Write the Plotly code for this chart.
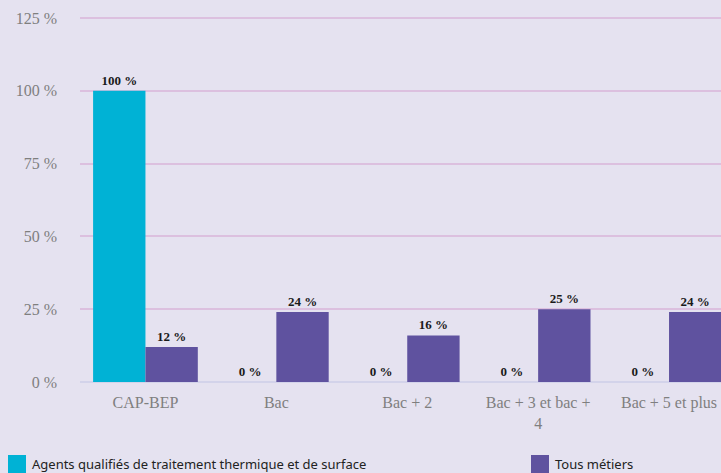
import plotly.graph_objects as go

categories = ["CAP-BEP", "Bac", "Bac + 2", "Bac + 3 et bac +<br>4", "Bac + 5 et plus"]
series1_name = "Agents qualifiés de traitement thermique et de surface"
series1_values = [100, 0, 0, 0, 0]
series2_name = "Tous métiers"
series2_values = [12, 24, 16, 25, 24]
y_ticks = [0, 25, 50, 75, 100, 125]
y_tick_labels = ["0 %", "25 %", "50 %", "75 %", "100 %", "125 %"]

c1 = "#00b2d5"
c2 = "#5f529f"
bg = "#e5e2f0"
label_font = dict(family="Liberation Serif", size=13, color="#1a1a1a")

fig = go.Figure()
fig.add_trace(go.Bar(x=categories, y=series1_values, name=series1_name,
                     marker=dict(color=c1, line=dict(width=0)),
                     text=[f"<b>{v} %</b>" for v in series1_values],
                     textposition="outside", textfont=label_font, cliponaxis=False))
fig.add_trace(go.Bar(x=categories, y=series2_values, name=series2_name,
                     marker=dict(color=c2, line=dict(width=0)),
                     text=[f"<b>{v} %</b>" for v in series2_values],
                     textposition="outside", textfont=label_font, cliponaxis=False))

W, H = 721, 473
L, R, T, B = 80, 0, 16, 91
pw, ph = W - L - R, H - T - B

def px_x(x):
    return (x - L) / pw

def px_y(y):
    return (H - B - y) / ph

shapes = [
    dict(type="rect", xref="paper", yref="paper", x0=px_x(8), x1=px_x(26), y0=px_y(473), y1=px_y(455),
         fillcolor=c1, line=dict(width=0)),
    dict(type="rect", xref="paper", yref="paper", x0=px_x(531), x1=px_x(549), y0=px_y(473), y1=px_y(455),
         fillcolor=c2, line=dict(width=0)),
]
leg_font = dict(family="Noto Sans", size=13, color="#222222")
annotations = [
    dict(xref="paper", yref="paper", x=px_x(30), y=px_y(464), text=series1_name, showarrow=False,
         xanchor="left", yanchor="middle", font=leg_font),
    dict(xref="paper", yref="paper", x=px_x(553), y=px_y(464), text=series2_name, showarrow=False,
         xanchor="left", yanchor="middle", font=leg_font),
]

fig.update_layout(
    width=W, height=H,
    margin=dict(l=L, r=R, t=T, b=B, autoexpand=False),
    paper_bgcolor=bg, plot_bgcolor=bg,
    barmode="group", bargap=0.2, bargroupgap=0,
    showlegend=False,
    uniformtext=dict(minsize=8, mode="show"),
    shapes=shapes, annotations=annotations,
    xaxis=dict(range=[-0.5, 4.397], showgrid=False, zeroline=False, showline=False,
               ticklabelstandoff=9,
               tickfont=dict(family="Liberation Serif", size=16, color="#7f7f7f"), ticks=""),
    yaxis=dict(range=[0, 125.7], tickvals=y_ticks, ticktext=y_tick_labels,
               showgrid=True, gridcolor="#dcc0df", gridwidth=2,
               zeroline=True, zerolinecolor="#d3d3ea", zerolinewidth=2,
               showline=False, ticks="", ticklabelstandoff=22,
               tickfont=dict(family="Liberation Serif", size=16, color="#7f7f7f")),
)

fig.write_html("out.html", config={"displayModeBar": False},
               post_script="document.body.style.margin='0';document.body.style.padding='0';document.documentElement.style.background='%s';" % bg)
